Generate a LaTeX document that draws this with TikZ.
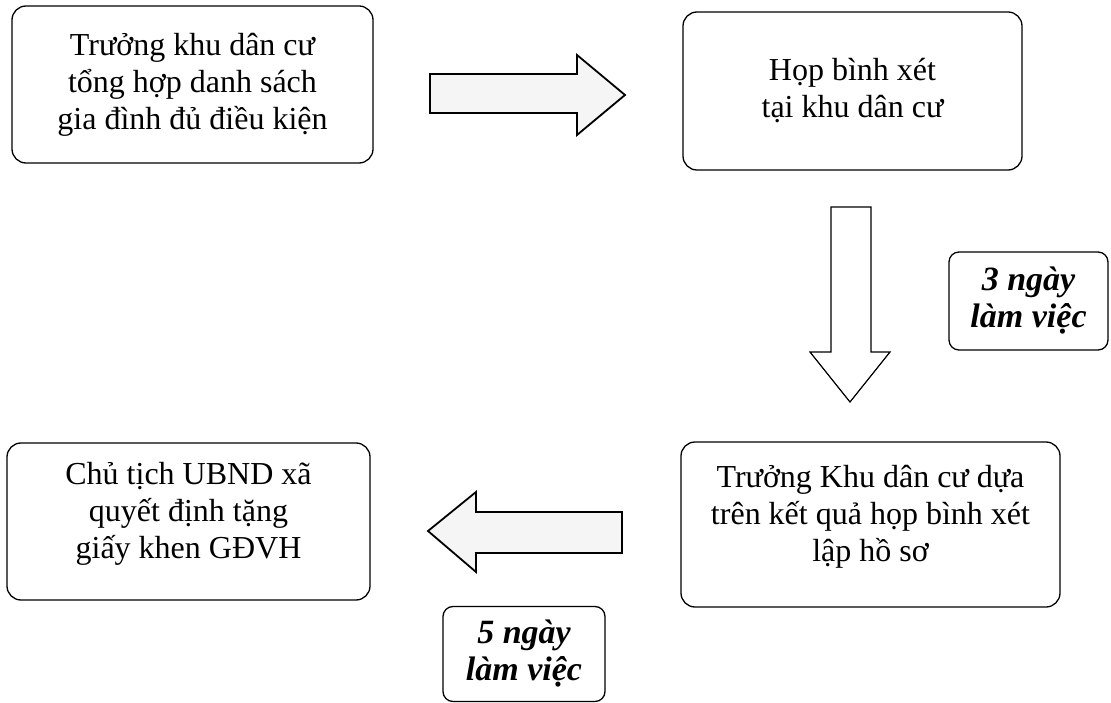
\documentclass[tikz,border=0pt]{standalone}
\usepackage{fontspec}
\setmainfont{Liberation Serif}
\begin{document}
\begin{tikzpicture}[x=1pt,y=-1pt,
    box/.style={draw,rounded corners=14pt,line width=1.3pt,align=center,
      inner sep=0pt,font=\fontsize{32}{37}\selectfont},
    daybox/.style={draw,rounded corners=10pt,line width=1.3pt,align=center,
      inner sep=0pt,font=\fontsize{34}{37}\selectfont\bfseries\itshape},
    blockarrow/.style={draw,fill=black!4,line width=1.8pt,line join=miter}]

    \useasboundingbox (0,0) rectangle (1111,703);

    % Boxes
    \node[box,minimum width=361pt,minimum height=157pt] (tonghop) at (192.5,84.5)
        {Trưởng khu dân cư\\tổng hợp danh sách\\gia đình đủ điều kiện};
    \node[box,minimum width=339pt,minimum height=158pt] (hop) at (852.5,91)
        {Họp bình xét\\tại khu dân cư};
    \node[box,minimum width=379pt,minimum height=165pt,text depth=22pt] (hoso) at (870.5,524.5)
        {Trưởng Khu dân cư dựa\\trên kết quả họp bình xét\\lập hồ sơ};
    \node[box,minimum width=363pt,minimum height=157pt,text depth=22pt] (quyetdinh) at (188.5,521.5)
        {Chủ tịch UBND xã\\quyết định tặng\\giấy khen GĐVH};

    % Time labels
    \node[daybox,minimum width=159pt,minimum height=98pt] (ba) at (1028.5,301)
        {3 ngày\\làm việc};
    \node[daybox,minimum width=162pt,minimum height=95pt] (nam) at (524,654)
        {5 ngày\\làm việc};

    % Arrows
    \draw[blockarrow] (430,74) -- (577,74) -- (577,55) -- (625,95)
        -- (577,135) -- (577,113) -- (430,113) -- cycle;
    \draw[blockarrow,fill=white,line width=1.2pt] (831,207) -- (871,207) -- (871,352)
        -- (890,352) -- (850,402) -- (810,352) -- (831,352) -- cycle;
    \draw[blockarrow] (622,512) -- (476,512) -- (476,492) -- (428,531)
        -- (476,572) -- (476,553) -- (622,553) -- cycle;
\end{tikzpicture}
\end{document}
